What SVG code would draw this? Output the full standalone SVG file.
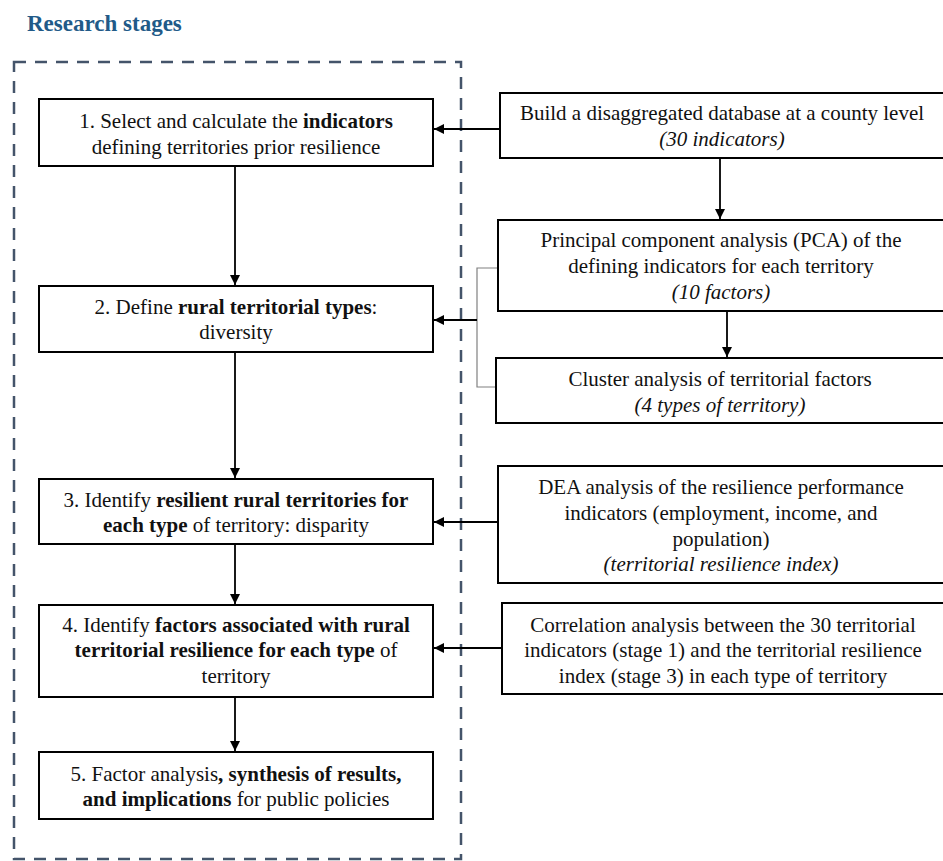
<svg xmlns="http://www.w3.org/2000/svg" width="943" height="861" viewBox="0 0 943 861">
  <defs>
    <marker id="ah" viewBox="0 0 10 10" refX="10" refY="5" markerWidth="11" markerHeight="10" markerUnits="userSpaceOnUse" orient="auto">
      <path d="M0,0 L10,5 L0,10 z" fill="#000"/>
    </marker>
    <style>
      .box { fill: #fff; stroke: #000; stroke-width: 2; }
      .t { font-family: "Liberation Serif", "Times New Roman", serif; font-size: 21px; fill: #111; text-anchor: middle; }
      .b { font-weight: bold; }
      .i { font-style: italic; }
      .arr { fill: none; stroke: #000; stroke-width: 1.8; marker-end: url(#ah); }
      .brk { fill: none; stroke: #808080; stroke-width: 1.2; }
      .title { font-family: "Liberation Serif", "Times New Roman", serif; font-size: 23px; font-weight: bold; fill: #215a88; }
      .frame { fill: none; stroke: #44546a; stroke-width: 2.5; stroke-dasharray: 12 9; }
    </style>
  </defs>

  <rect width="943" height="861" fill="#fff"/>

  <text class="title" x="27" y="31">Research stages</text>
  <rect class="frame" x="14" y="62" width="447" height="797"/>

  <g id="connectors">
    <path class="arr" d="M500,129 H434"/>
    <path class="arr" d="M720,158 V219"/>
    <path class="arr" d="M727,311 V357"/>
    <path class="brk" d="M497,268 H477 V387 H496"/>
    <path class="arr" d="M477,320 H434"/>
    <path class="arr" d="M498,522 H434"/>
    <path class="arr" d="M502,648 H434"/>
    <path class="arr" d="M235,167 V285"/>
    <path class="arr" d="M235,353 V478"/>
    <path class="arr" d="M235,545 V604"/>
    <path class="arr" d="M235,698 V751"/>
  </g>

  <g id="stage1">
    <rect class="box" x="39" y="99" width="394" height="67"/>
    <text class="t" x="236" y="128">1. Select and calculate the <tspan class="b">indicators</tspan></text>
    <text class="t" x="236" y="154">defining territories prior resilience</text>
  </g>

  <g id="stage2">
    <rect class="box" x="39" y="286" width="394" height="66"/>
    <text class="t" x="236" y="314">2. Define <tspan class="b">rural territorial types</tspan>:</text>
    <text class="t" x="236" y="339">diversity</text>
  </g>

  <g id="stage3">
    <rect class="box" x="39" y="479" width="394" height="65"/>
    <text class="t" x="236" y="507">3. Identify <tspan class="b">resilient rural territories for</tspan></text>
    <text class="t" x="236" y="532"><tspan class="b">each type</tspan> of territory: disparity</text>
  </g>

  <g id="stage4">
    <rect class="box" x="39" y="605" width="394" height="92"/>
    <text class="t" x="236" y="632">4. Identify <tspan class="b">factors associated with rural</tspan></text>
    <text class="t" x="236" y="657"><tspan class="b">territorial resilience for each type</tspan> of</text>
    <text class="t" x="236" y="683">territory</text>
  </g>

  <g id="stage5">
    <rect class="box" x="39" y="752" width="394" height="67"/>
    <text class="t" x="236" y="781">5. Factor analysis<tspan class="b">, synthesis of results,</tspan></text>
    <text class="t" x="236" y="806"><tspan class="b">and implications</tspan>  for public policies</text>
  </g>

  <g id="database">
    <rect class="box" x="500" y="93" width="450" height="65"/>
    <text class="t" x="722" y="120">Build a disaggregated database at a county level</text>
    <text class="t i" x="722" y="146">(30 indicators)</text>
  </g>

  <g id="pca">
    <rect class="box" x="498" y="220" width="452" height="91"/>
    <text class="t" x="721" y="247">Principal component analysis (PCA) of the</text>
    <text class="t" x="721" y="273">defining indicators for each territory</text>
    <text class="t i" x="721" y="299">(10 factors)</text>
  </g>

  <g id="cluster">
    <rect class="box" x="496" y="358" width="454" height="65"/>
    <text class="t" x="720" y="386">Cluster analysis of territorial factors</text>
    <text class="t i" x="720" y="412">(4 types of territory)</text>
  </g>

  <g id="dea">
    <rect class="box" x="498" y="466" width="452" height="117"/>
    <text class="t" x="721" y="494">DEA analysis of the resilience performance</text>
    <text class="t" x="721" y="520">indicators (employment, income, and</text>
    <text class="t" x="721" y="546">population)</text>
    <text class="t i" x="721" y="571">(territorial resilience index)</text>
  </g>

  <g id="correlation">
    <rect class="box" x="502" y="603" width="448" height="91"/>
    <text class="t" x="723" y="632">Correlation analysis between the 30 territorial</text>
    <text class="t" x="723" y="657">indicators (stage 1) and the territorial resilience</text>
    <text class="t" x="723" y="683">index (stage 3) in each type of territory</text>
  </g>
</svg>
